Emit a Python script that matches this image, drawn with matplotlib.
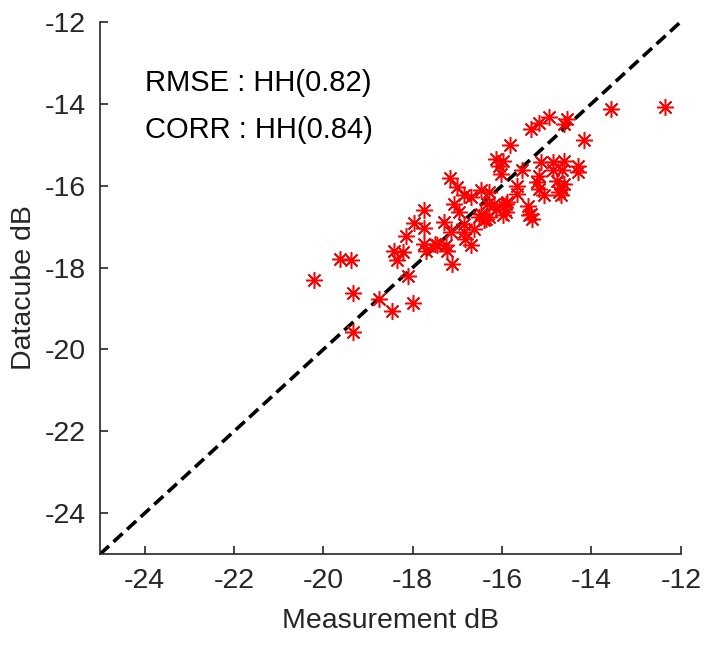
import numpy as np
import matplotlib
matplotlib.use("Agg")
import matplotlib.pyplot as plt

meas = [-20.22, -19.62, -19.39, -19.33, -19.33, -18.76, -18.46, -18.00, -18.11,
        -18.42, -18.35, -18.22, -18.15, -17.98, -17.75, -17.75, -17.75, -17.71,
        -17.45, -17.30, -17.17, -17.26, -17.23, -17.11, -17.00, -16.85, -16.70,
        -16.48, -16.29, -17.08, -16.97, -16.85, -16.63, -16.52, -16.41, -16.29,
        -16.14, -15.92, -15.92, -15.99, -15.43, -15.40, -17.15, -16.85, -16.82,
        -16.70, -17.49, -16.48, -16.33, -16.37, -16.18, -15.96, -15.88, -15.36,
        -15.32, -16.14, -15.99, -16.07, -16.03, -15.82, -15.55, -15.66, -15.66,
        -15.36, -15.17, -14.95, -14.61, -14.55, -14.16, -13.57, -12.35, -15.13,
        -14.87, -14.61, -14.31, -14.31, -14.87, -14.65, -15.17, -15.21, -14.76,
        -14.61, -15.17, -15.06, -14.73, -14.65, -14.69]
cube = [-18.30, -17.79, -17.81, -18.62, -19.57, -18.78, -19.07, -18.86, -18.20,
        -17.59, -17.81, -17.63, -17.24, -16.91, -16.59, -17.04, -17.42, -17.59,
        -17.46, -16.90, -15.81, -17.46, -17.59, -17.91, -16.04, -16.24, -16.29,
        -16.12, -16.16, -16.45, -16.65, -16.93, -17.06, -16.77, -16.85, -16.77,
        -16.57, -16.45, -16.65, -16.73, -16.49, -16.73, -17.14, -17.14, -17.30,
        -17.46, -17.42, -16.69, -16.45, -16.81, -16.45, -16.49, -16.41, -16.69,
        -16.81, -15.35, -15.39, -15.51, -15.71, -15.02, -15.63, -16.00, -16.20,
        -14.62, -14.46, -14.33, -14.50, -14.37, -14.89, -14.13, -14.09, -15.43,
        -15.43, -15.39, -15.51, -15.67, -15.63, -15.63, -15.76, -15.92, -15.88,
        -15.96, -16.08, -16.24, -16.16, -16.08, -16.24]
ticks = [-24, -22, -20, -18, -16, -14, -12]
rmse, corr = 0.82, 0.84

plt.rcParams["font.family"] = ["Liberation Sans", "DejaVu Sans"]
plt.rcParams["axes.unicode_minus"] = False
txt = "#262626"

fig = plt.figure(figsize=(7.04, 6.59), dpi=100)
ax = fig.add_axes([0.142, 0.159, 0.825, 0.808])

ax.plot([-25, -12], [-25, -12], color="black", lw=2.6, ls=(0, (3.4, 1.7)), zorder=2)
ax.plot(meas, cube, ls="none", marker=(8, 2, 0), ms=12, mew=1.1,
        color="#ff0000", zorder=3)

ax.set_xlim(-25, -12)
ax.set_ylim(-25, -12)
ax.set_xticks(ticks)
ax.set_yticks(ticks)
for sp in ("top", "right"):
    ax.spines[sp].set_visible(False)
for sp in ("left", "bottom"):
    ax.spines[sp].set_color(txt)
    ax.spines[sp].set_linewidth(1.2)
ax.tick_params(direction="in", length=6, width=1.2, colors=txt, labelsize=20.5, pad=10)

ax.set_xlabel("Measurement dB", fontsize=20.5, color=txt, labelpad=10)
ax.set_ylabel("Datacube dB", fontsize=20.5, color=txt, labelpad=6)

ax.text(-24, -13.5, f"RMSE : HH({rmse:.2f})", fontsize=21, color="black", va="center")
ax.text(-24, -14.65, f"CORR : HH({corr:.2f})", fontsize=21, color="black", va="center")

fig.savefig("out.png", dpi=100)
